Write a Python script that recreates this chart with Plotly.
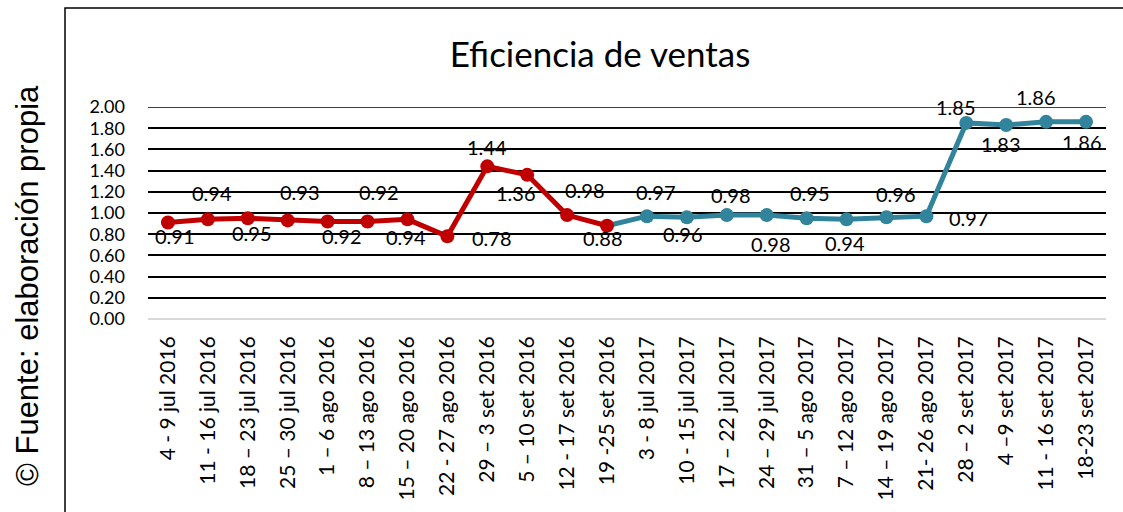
import plotly.graph_objects as go

categories = [
    "4 - 9 jul 2016", "11 - 16 jul 2016", "18 – 23 jul 2016", "25 – 30 jul 2016",
    "1 – 6 ago 2016", "8 – 13 ago 2016", "15 – 20 ago 2016", "22 - 27 ago 2016",
    "29 – 3 set 2016", "5 – 10 set 2016", "12 - 17 set 2016", "19 -25 set 2016",
    "3 - 8 jul 2017", "10 - 15 jul 2017", "17 – 22 jul 2017", "24 – 29 jul 2017",
    "31 – 5 ago 2017", "7 – 12 ago 2017", "14 – 19 ago 2017", "21- 26 ago 2017",
    "28 – 2 set 2017", "4 –9 set 2017", "11 - 16 set 2017", "18-23 set 2017",
]
values_2016 = [0.91, 0.94, 0.95, 0.93, 0.92, 0.92, 0.94, 0.78, 1.44, 1.36, 0.98, 0.88]
values_2017 = [0.97, 0.96, 0.98, 0.98, 0.95, 0.94, 0.96, 0.97, 1.85, 1.83, 1.86, 1.86]
y_ticks = [0.0, 0.2, 0.4, 0.6, 0.8, 1.0, 1.2, 1.4, 1.6, 1.8, 2.0]

# label offsets in pixels (dx, dy; dy positive = below), styling only
label_offsets = [
    (7, 13), (4, -26), (4, 15), (12, -28), (14, 15), (11, -29), (-1, 18), (45, 2),
    (0, -19), (-11, 18), (18, -25), (-4, 12),
    (9, -24), (-4, 17), (4, -20), (4, 29), (3, -25), (-2, 24), (10, -23), (43, 2),
    (-10, -16), (-5, 19), (-10, -25), (-4, 20),
]

RED = "#C00000"
TEAL = "#31849B"

n16 = len(values_2016)
x16 = categories[:n16]
x17 = categories[n16:]

fig = go.Figure()
fig.add_trace(go.Scatter(
    x=[x16[-1]] + x17, y=[values_2016[-1]] + values_2017,
    mode="lines", line=dict(color=TEAL, width=5), hoverinfo="skip", showlegend=False))
fig.add_trace(go.Scatter(
    x=x17, y=values_2017, mode="markers",
    marker=dict(color=TEAL, size=14), showlegend=False))
fig.add_trace(go.Scatter(
    x=x16, y=values_2016, mode="lines+markers",
    line=dict(color=RED, width=5), marker=dict(color=RED, size=14), showlegend=False))

all_vals = values_2016 + values_2017
annotations = []
for cat, v, (dx, dy) in zip(categories, all_vals, label_offsets):
    annotations.append(dict(
        x=cat, y=v, xref="x", yref="y", text=f"{v:.2f}", showarrow=False,
        xshift=dx, yshift=-dy, font=dict(family="Lato", size=20, color="#000000")))

annotations.append(dict(
    x=(27 - 148) / 958, y=(319 - 286) / 212, xref="paper", yref="paper",
    text="© Fuente: elaboración propia", textangle=-90, showarrow=False,
    xanchor="center", yanchor="middle",
    font=dict(family="Liberation Sans", size=31, color="#000000")))

fig.update_layout(
    width=1123, height=512,
    margin=dict(l=148, r=17, t=107, b=193),
    paper_bgcolor="white", plot_bgcolor="white",
    title=dict(text="Eficiencia de ventas", x=600 / 1123, y=1 - 55 / 512,
               xanchor="center", yanchor="middle",
               font=dict(family="Lato", size=35, color="#000000")),
    annotations=annotations,
    shapes=[
        dict(type="rect", xref="paper", yref="paper",
             x0=(65 - 148) / 958, x1=(1130 - 148) / 958,
             y0=(319 - 530) / 212, y1=(319 - 8) / 212,
             line=dict(color="#000000", width=1.5), fillcolor="rgba(0,0,0,0)",
             layer="below"),
        dict(type="line", xref="paper", yref="y", x0=0, x1=1,
             y0=y_ticks[-1], y1=y_ticks[-1],
             line=dict(color="#000000", width=1.5), layer="below"),
    ],
)

fig.update_xaxes(
    type="category", categoryorder="array", categoryarray=categories,
    range=[-0.5, len(categories) - 0.5],
    showgrid=False, showline=False, zeroline=False,
    tickangle=-90, ticklabelstandoff=12,
    tickfont=dict(family="Lato", size=21, color="#000000"),
)
fig.update_yaxes(
    range=[0, 2.0], tickvals=y_ticks, ticktext=[f"{t:.2f}" for t in y_ticks],
    showgrid=True, gridcolor="#000000", gridwidth=1.5,
    zeroline=True, zerolinecolor="#D9D9D9", zerolinewidth=2,
    showline=False, ticklabelstandoff=22,
    tickfont=dict(family="Lato", size=18, color="#000000"),
)

fig.write_html("out.html", config={"displayModeBar": False},
               post_script="document.body.style.margin='0px';")
